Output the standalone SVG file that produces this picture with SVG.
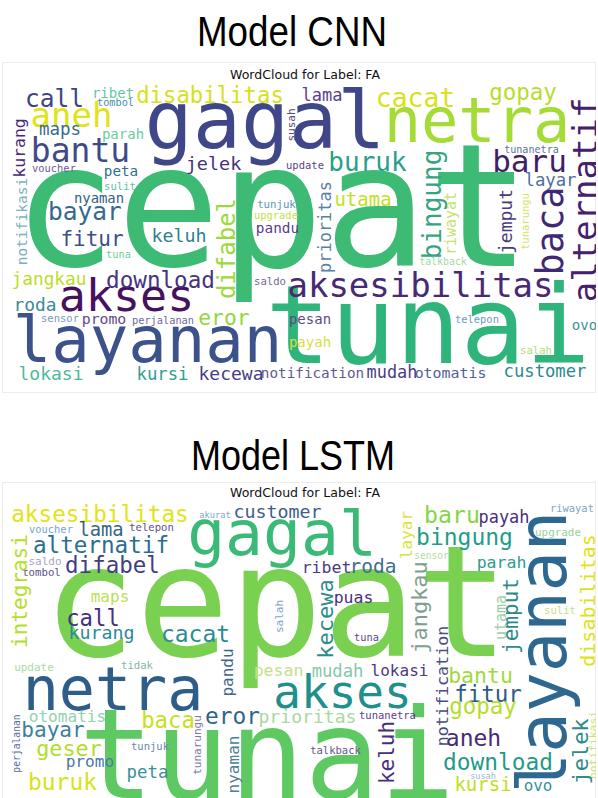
<svg xmlns="http://www.w3.org/2000/svg" width="598" height="798" viewBox="0 0 598 798">
<style>
.w{font-family:"DejaVu Sans Mono","Liberation Mono",monospace;text-anchor:middle}
.h{font-family:"Liberation Sans",Arial,sans-serif;fill:#000;text-anchor:middle}
.t{font-family:"DejaVu Sans","Liberation Sans",sans-serif;fill:#111;font-size:12px;text-anchor:middle}
.p{fill:#fff;stroke:#ececec;stroke-width:1}
</style>
<defs>
<clipPath id="c1"><rect x="2" y="62" width="594" height="330"/></clipPath>
<clipPath id="c2"><rect x="2" y="482" width="594" height="316"/></clipPath>
</defs>
<rect width="598" height="798" fill="#fff"/>
<text class="h" x="292" y="46" font-size="42" textLength="190" lengthAdjust="spacingAndGlyphs">Model CNN</text>
<text class="h" x="293" y="470" font-size="43" textLength="204" lengthAdjust="spacingAndGlyphs">Model LSTM</text>

<g id="cnn">
<rect class="p" x="2.5" y="62.5" width="593" height="330"/>
<text class="t" x="305" y="79" textLength="150" lengthAdjust="spacingAndGlyphs">WordCloud for Label: FA</text>
<g clip-path="url(#c1)">
<text class="w" x="272" y="266" font-size="172" fill="#3dbb74">cepat</text>
<text class="w" x="428" y="363" font-size="108" fill="#2fb47c">tunai</text>
<text class="w" x="265" y="148" font-size="80" fill="#404788">gagal</text>
<text class="w" x="477" y="142" font-size="62" fill="#a5db36">netra</text>
<text class="w" x="147.5" y="362" font-size="64" fill="#3b528b">layanan</text>
<text class="w" x="126.5" y="311" font-size="45" fill="#46125f">akses</text>
<text class="w" x="420.5" y="297" font-size="34" fill="#472a73">aksesibilitas</text>
<text class="w" transform="translate(597,200) rotate(-90)" font-size="34" fill="#46206e">alternatif</text>
<text class="w" transform="translate(563,231) rotate(-90)" font-size="37" fill="#3e2a74">baca</text>
<text class="w" transform="translate(441,204.5) rotate(-90)" font-size="26" fill="#35a57f">bingung</text>
<text class="w" transform="translate(235,248.5) rotate(-90)" font-size="24" fill="#9bd93c">difabel</text>
<text class="w" transform="translate(25,148) rotate(-90)" font-size="16.5" fill="#482878">kurang</text>
<text class="w" transform="translate(27,221.5) rotate(-90)" font-size="14.5" fill="#7fb0c0">notifikasi</text>
<text class="w" transform="translate(295,125) rotate(-90)" font-size="11" fill="#5a4a7a">susah</text>
<text class="w" transform="translate(331,227) rotate(-90)" font-size="17" fill="#5a7fa8">prioritas</text>
<text class="w" transform="translate(456,223.5) rotate(-90)" font-size="15" fill="#c8e06a">riwayat</text>
<text class="w" transform="translate(512,221.5) rotate(-90)" font-size="18" fill="#4a3c7e">jemput</text>
<text class="w" transform="translate(529,221.5) rotate(-90)" font-size="10.5" fill="#d6e36a">tunarungu</text>
<text class="w" x="54.5" y="107" font-size="24.5" fill="#414487">call</text>
<text class="w" x="71.5" y="127" font-size="34" fill="#dfe318">aneh</text>
<text class="w" x="113" y="98" font-size="14" fill="#67c6a2">ribet</text>
<text class="w" x="115.5" y="106" font-size="10.2" fill="#3f8fa4">tombol</text>
<text class="w" x="210" y="103" font-size="22.3" fill="#d5e21a">disabilitas</text>
<text class="w" x="60" y="135" font-size="17.5" fill="#3a6a8c">maps</text>
<text class="w" x="123" y="139" font-size="14" fill="#6ccd9c">parah</text>
<text class="w" x="80.5" y="162" font-size="33" fill="#3e4a89">bantu</text>
<text class="w" x="213.5" y="170" font-size="18.5" fill="#472f7d">jelek</text>
<text class="w" x="54" y="172" font-size="10.4" fill="#6b5b9a">voucher</text>
<text class="w" x="121" y="176" font-size="14.3" fill="#30708e">peta</text>
<text class="w" x="120" y="190" font-size="10.6" fill="#5cc4a0">sulit</text>
<text class="w" x="99" y="203" font-size="13.9" fill="#2f5f80">nyaman</text>
<text class="w" x="85" y="220" font-size="24.5" fill="#35688e">bayar</text>
<text class="w" x="276.5" y="208" font-size="10.7" fill="#5a9bbb">tunjuk</text>
<text class="w" x="276" y="219" font-size="10.4" fill="#c4e04a">upgrade</text>
<text class="w" x="277.5" y="233" font-size="14.4" fill="#5d3b8f">pandu</text>
<text class="w" x="305" y="169" font-size="10.5" fill="#5e3f8c">update</text>
<text class="w" x="92" y="246" font-size="21" fill="#3b4f8a">fitur</text>
<text class="w" x="179" y="242" font-size="18.3" fill="#2d7f8e">keluh</text>
<text class="w" x="118.5" y="258" font-size="10.3" fill="#6fcf9a">tuna</text>
<text class="w" x="49" y="285" font-size="17.8" fill="#bade28">jangkau</text>
<text class="w" x="160.5" y="288" font-size="22.6" fill="#46337f">download</text>
<text class="w" x="270" y="285" font-size="10.6" fill="#6f6a99">saldo</text>
<text class="w" x="35" y="311" font-size="17.9" fill="#3b8a9b">roda</text>
<text class="w" x="60" y="322" font-size="10.5" fill="#7898b8">sensor</text>
<text class="w" x="104" y="324" font-size="14.8" fill="#5e4a8c">promo</text>
<text class="w" x="163" y="324" font-size="10.3" fill="#6a6aa4">perjalanan</text>
<text class="w" x="224" y="325" font-size="21.4" fill="#93d741">eror</text>
<text class="w" x="51" y="380" font-size="18" fill="#4fb99a">lokasi</text>
<text class="w" x="162.5" y="380" font-size="17.3" fill="#2fa08e">kursi</text>
<text class="w" x="231" y="380" font-size="18" fill="#433e85">kecewa</text>
<text class="w" x="312.5" y="378" font-size="14.3" fill="#5f5b92">notification</text>
<text class="w" x="392" y="378" font-size="16.9" fill="#4a3c83">mudah</text>
<text class="w" x="450.5" y="378" font-size="14.9" fill="#52609c">otomatis</text>
<text class="w" x="545" y="377" font-size="17.2" fill="#2a8a8c">customer</text>
<text class="w" x="322" y="101" font-size="17" fill="#5b3e8e">lama</text>
<text class="w" x="415.5" y="107" font-size="26.4" fill="#d8e219">cacat</text>
<text class="w" x="523" y="100" font-size="22.5" fill="#b5de2b">gopay</text>
<text class="w" x="531.5" y="153" font-size="10.1" fill="#5a74a0">tunanetra</text>
<text class="w" x="529.5" y="172" font-size="31" fill="#3f1e6a">baru</text>
<text class="w" x="367.5" y="171" font-size="26" fill="#28a08c">buruk</text>
<text class="w" x="550.5" y="186" font-size="17.3" fill="#4d70a0">layar</text>
<text class="w" x="363" y="206" font-size="19" fill="#c3df26">utama</text>
<text class="w" x="443" y="265" font-size="9.9" fill="#a6d9a2">talkback</text>
<text class="w" x="310" y="324" font-size="14" fill="#5b4a8a">pesan</text>
<text class="w" x="310" y="347" font-size="14" fill="#d6e040">payah</text>
<text class="w" x="477" y="323" font-size="10.4" fill="#6a9cc2">telepon</text>
<text class="w" x="584.5" y="330" font-size="14" fill="#3a909c">ovo</text>
<text class="w" x="536" y="354" font-size="10.6" fill="#b9d97a">salah</text>
</g>
</g>

<g id="lstm">
<rect class="p" x="2.5" y="482.5" width="593" height="316"/>
<text class="t" x="305" y="497" textLength="150" lengthAdjust="spacingAndGlyphs">WordCloud for Label: FA</text>
<g clip-path="url(#c2)">
<text class="w" x="276" y="656" font-size="155" fill="#7ad151">cepat</text>
<text class="w" x="267" y="798" font-size="125" fill="#5ec962">tunai</text>
<text class="w" x="282" y="555" font-size="63" fill="#3aba76">gagal</text>
<text class="w" x="113" y="710" font-size="60" fill="#2f5d8a">netra</text>
<text class="w" x="342.5" y="708" font-size="46" fill="#21908c">akses</text>
<text class="w" transform="translate(566,652) rotate(-90)" font-size="67" fill="#2e6890">layanan</text>
<text class="w" x="100" y="522" font-size="22.7" fill="#e2e418">aksesibilitas</text>
<text class="w" x="215" y="518" font-size="8.7" fill="#7aa8c8">akurat</text>
<text class="w" x="277.5" y="518" font-size="18.3" fill="#3d5e8c">customer</text>
<text class="w" x="51" y="533" font-size="10.4" fill="#71a8cb">voucher</text>
<text class="w" x="101" y="536" font-size="18.8" fill="#34657f">lama</text>
<text class="w" x="151.5" y="531" font-size="10.6" fill="#5c4f8e">telepon</text>
<text class="w" x="101" y="553" font-size="22.6" fill="#2c6e8e">alternatif</text>
<text class="w" x="45" y="565" font-size="11" fill="#aaa2c8">saldo</text>
<text class="w" x="112.5" y="573" font-size="22.5" fill="#433d84">difabel</text>
<text class="w" x="41.5" y="576" font-size="10.7" fill="#5b4f93">tombol</text>
<text class="w" x="110" y="602" font-size="16" fill="#bce05a">maps</text>
<text class="w" x="93" y="626" font-size="22.3" fill="#46307e">call</text>
<text class="w" x="101.5" y="639" font-size="18.3" fill="#2b8a9a">kurang</text>
<text class="w" x="195.5" y="642" font-size="22.9" fill="#2a8c95">cacat</text>
<text class="w" x="452" y="523" font-size="23.2" fill="#86d549">baru</text>
<text class="w" x="504" y="523" font-size="16.9" fill="#4a2f7f">payah</text>
<text class="w" x="572" y="512" font-size="10.4" fill="#7ea6c6">riwayat</text>
<text class="w" x="464.5" y="545" font-size="23" fill="#1f9e89">bingung</text>
<text class="w" x="558" y="536" font-size="10.9" fill="#96d3a0">upgrade</text>
<text class="w" x="431.5" y="559" font-size="9.6" fill="#b3dc9f">sensor</text>
<text class="w" x="501.5" y="568" font-size="16.5" fill="#2a9d8f">parah</text>
<text class="w" x="326.5" y="573" font-size="16.5" fill="#4b3a86">ribet</text>
<text class="w" x="373" y="573" font-size="19.5" fill="#3f6f8d">roda</text>
<text class="w" x="353.5" y="603" font-size="16.5" fill="#4b307e">puas</text>
<text class="w" x="366.5" y="641" font-size="10.3" fill="#5a4a8a">tuna</text>
<text class="w" x="560" y="614" font-size="10.6" fill="#c5df8a">sulit</text>
<text class="w" x="34" y="671" font-size="11" fill="#a5dba5">update</text>
<text class="w" x="137" y="669" font-size="10.6" fill="#7fb8a8">tidak</text>
<text class="w" x="278.5" y="676" font-size="16.5" fill="#c3e18a">pesan</text>
<text class="w" x="337.5" y="677" font-size="17.2" fill="#85c8aa">mudah</text>
<text class="w" x="399.5" y="676" font-size="16" fill="#4d3a80">lokasi</text>
<text class="w" x="232.5" y="724" font-size="22.8" fill="#2f6488">eror</text>
<text class="w" x="307.5" y="723" font-size="18.1" fill="#a7d9a0">prioritas</text>
<text class="w" x="387.5" y="719" font-size="10.5" fill="#5b3e8c">tunanetra</text>
<text class="w" x="168" y="728" font-size="22.3" fill="#c7e020">baca</text>
<text class="w" x="67.5" y="722" font-size="16.1" fill="#8fd3b0">otomatis</text>
<text class="w" x="53" y="737" font-size="21.1" fill="#3e7f9e">bayar</text>
<text class="w" x="69" y="756" font-size="21.8" fill="#b2dd2c">geser</text>
<text class="w" x="150" y="750" font-size="10.5" fill="#6a8aa8">tunjuk</text>
<text class="w" x="90" y="767" font-size="16.2" fill="#4a7aa5">promo</text>
<text class="w" x="62.5" y="790" font-size="22.9" fill="#d8e219">buruk</text>
<text class="w" x="147.5" y="778" font-size="17.4" fill="#3a8f9a">peta</text>
<text class="w" x="335.5" y="754" font-size="10.5" fill="#5f5390">talkback</text>
<text class="w" x="480.5" y="683" font-size="21.5" fill="#a0da39">bantu</text>
<text class="w" x="488" y="702" font-size="22.5" fill="#2f5a8a">fitur</text>
<text class="w" x="483" y="714" font-size="22.5" fill="#b5de2b">gopay</text>
<text class="w" x="473.5" y="746" font-size="23" fill="#482a7a">aneh</text>
<text class="w" x="498" y="770" font-size="22.8" fill="#1f9a8a">download</text>
<text class="w" x="483" y="779" font-size="8.5" fill="#9ab8d0">susah</text>
<text class="w" x="483" y="791" font-size="19" fill="#c0df25">kursi</text>
<text class="w" x="538" y="791" font-size="15.9" fill="#3a8fa0">ovo</text>
<text class="w" transform="translate(27,591) rotate(-90)" font-size="21" fill="#b5de2b">integrasi</text>
<text class="w" transform="translate(412,535) rotate(-90)" font-size="16" fill="#d9e33a">layar</text>
<text class="w" transform="translate(427,607.5) rotate(-90)" font-size="22" fill="#7e9f8e">jangkau</text>
<text class="w" transform="translate(333,619) rotate(-90)" font-size="22" fill="#2b8b8e">kecewa</text>
<text class="w" transform="translate(283,616.5) rotate(-90)" font-size="11" fill="#7fa5c5">salah</text>
<text class="w" transform="translate(506,617.5) rotate(-90)" font-size="15" fill="#9ccfa8">utama</text>
<text class="w" transform="translate(518,616) rotate(-90)" font-size="21" fill="#2e8a8a">jemput</text>
<text class="w" transform="translate(595,600.5) rotate(-90)" font-size="20" fill="#dde318">disabilitas</text>
<text class="w" transform="translate(597,745) rotate(-90)" font-size="11.3" fill="#cfe070">notifikasi</text>
<text class="w" transform="translate(233,672.5) rotate(-90)" font-size="16" fill="#3f6690">pandu</text>
<text class="w" transform="translate(448,686) rotate(-90)" font-size="16.7" fill="#4a4d80">notification</text>
<text class="w" transform="translate(20,743.5) rotate(-90)" font-size="9.7" fill="#506c9a">perjalanan</text>
<text class="w" transform="translate(201,745) rotate(-90)" font-size="11" fill="#7e7aa8">tunarungu</text>
<text class="w" transform="translate(239,764.5) rotate(-90)" font-size="16" fill="#4e7f9a">nyaman</text>
<text class="w" transform="translate(394,752.5) rotate(-90)" font-size="21" fill="#46307e">keluh</text>
<text class="w" transform="translate(588,751.5) rotate(-90)" font-size="22" fill="#2e8a8e">jelek</text>
</g>
</g>
</svg>
